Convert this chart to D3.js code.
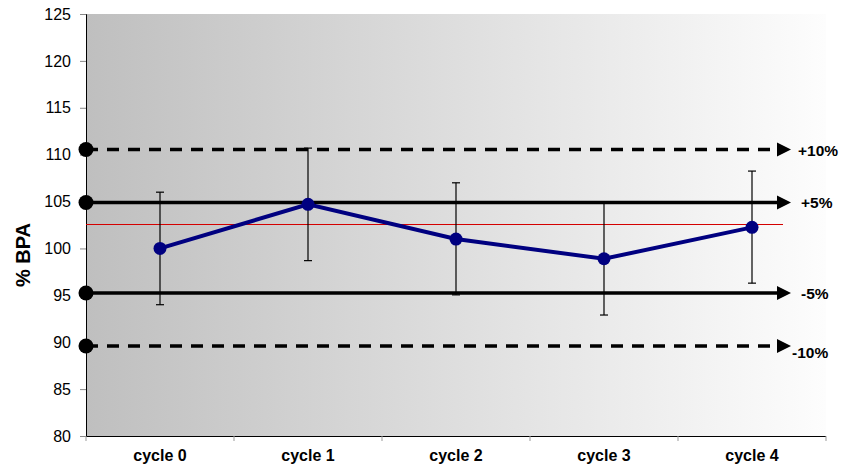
<!DOCTYPE html>
<html><head><meta charset="utf-8">
<script src="https://cdn.jsdelivr.net/npm/d3@7"></script>
<style>body{margin:0;background:#fff}svg{display:block}</style>
</head><body>
<svg id="chart" width="841" height="468"></svg>
<script>
const categories = ["cycle 0","cycle 1","cycle 2","cycle 3","cycle 4"];
const values = [100, 104.7, 101, 98.9, 102.25];
const errLow = [94, 98.7, 95.05, 92.9, 96.3];
const errHigh = [106, 110.7, 107, 104.9, 108.25];
const yTicks = [80,85,90,95,100,105,110,115,120,125];
const refValues = [110.55, 104.9, 95.25, 89.6];
const refLabels = ["+10%","+5%","-5%","-10%"];
const refDashed = [true,false,false,true];
const meanLine = 102.5;

const svg = d3.select("#chart");
const L = 86, R = 826, T = 14, B = 436;
const FONT = "Liberation Sans, Arial, sans-serif";
const x = d3.scaleBand().domain(categories).range([L, R]);
const y = d3.scaleLinear().domain([80,125]).range([B, T]);

const defs = svg.append("defs");
const g = defs.append("linearGradient").attr("id","bg").attr("x1","0").attr("x2","1").attr("y1","0").attr("y2","0");
g.append("stop").attr("offset","0").attr("stop-color","#bfbfbf");
g.append("stop").attr("offset","1").attr("stop-color","#fdfdfd");
defs.append("marker").attr("id","arr").attr("viewBox","0 0 10 10").attr("refX",0).attr("refY",5)
  .attr("markerWidth",4).attr("markerHeight",4.4).attr("markerUnits","strokeWidth").attr("orient","auto")
  .append("path").attr("d","M0,0L10,5L0,10Z").attr("fill","#000");

svg.append("rect").attr("x",L).attr("y",T).attr("width",R-L).attr("height",B-T).attr("fill","url(#bg)");

// axes
const yAxis = d3.axisLeft(y).tickValues(yTicks).tickSize(6).tickPadding(9);
const ya = svg.append("g").attr("transform",`translate(${L},0)`).call(yAxis);
ya.select(".domain").attr("stroke","#000");
ya.selectAll(".tick line").attr("stroke","#888");
ya.selectAll("text").attr("font-family",FONT).attr("font-size",16).attr("fill","#000");

const xAxis = d3.axisBottom(x).tickSize(0).tickPadding(14);
const xa = svg.append("g").attr("transform",`translate(0,${B})`).call(xAxis);
xa.select(".domain").attr("stroke","#000").attr("d",`M${L},0.5H${R}`);
xa.selectAll("text").attr("font-family",FONT).attr("font-size",16).attr("font-weight","bold").attr("fill","#000");
const xt = categories.map((c)=>x(c)).concat([R]);
svg.append("g").selectAll("line").data(xt).join("line")
  .attr("x1",d=>d).attr("x2",d=>d).attr("y1",B).attr("y2",B+5).attr("stroke","#999");

svg.append("text").attr("transform",`translate(30,255) rotate(-90)`).attr("text-anchor","middle")
  .attr("font-family",FONT).attr("font-size",20).attr("font-weight","bold").text("% BPA");

// red mean line
const my = Math.round(y(meanLine)) - 0.5;
svg.append("line").attr("x1",L).attr("x2",783).attr("y1",my).attr("y2",my).attr("stroke","#d40000").attr("stroke-width",1);

// reference lines
const refs = svg.append("g");
const labX = [798, 801, 801, 792];
const labDy = [6, 6, 6, 12];
refValues.forEach((v,i)=>{
  const yy = y(v);
  refs.append("line").attr("x1",L).attr("x2",777).attr("y1",yy).attr("y2",yy)
    .attr("stroke","#000").attr("stroke-width",3.5)
    .attr("stroke-dasharray", refDashed[i] ? "12,9" : null)
    .attr("marker-end","url(#arr)");
  refs.append("circle").attr("cx",L).attr("cy",yy).attr("r",7.5).attr("fill","#000");
  refs.append("text").attr("x", labX[i]).attr("y", yy + labDy[i])
    .attr("font-family",FONT).attr("font-size",15.5).attr("font-weight","bold").text(refLabels[i]);
});

// error bars
const cx = d => x(d) + x.bandwidth()/2;
const eb = svg.append("g").attr("stroke","#000").attr("stroke-width",1.2);
categories.forEach((c,i)=>{
  eb.append("line").attr("x1",cx(c)).attr("x2",cx(c)).attr("y1",y(errLow[i])).attr("y2",y(errHigh[i]));
  eb.append("line").attr("x1",cx(c)-4).attr("x2",cx(c)+4).attr("y1",y(errLow[i])).attr("y2",y(errLow[i]));
  eb.append("line").attr("x1",cx(c)-4).attr("x2",cx(c)+4).attr("y1",y(errHigh[i])).attr("y2",y(errHigh[i]));
});

// series line
const line = d3.line().x((d,i)=>cx(categories[i])).y(d=>y(d));
svg.append("path").datum(values).attr("d",line).attr("fill","none").attr("stroke","#000080").attr("stroke-width",4);
svg.append("g").selectAll("circle").data(values).join("circle")
  .attr("cx",(d,i)=>cx(categories[i])).attr("cy",d=>y(d)).attr("r",6.5).attr("fill","#000080");
</script>
</body></html>
